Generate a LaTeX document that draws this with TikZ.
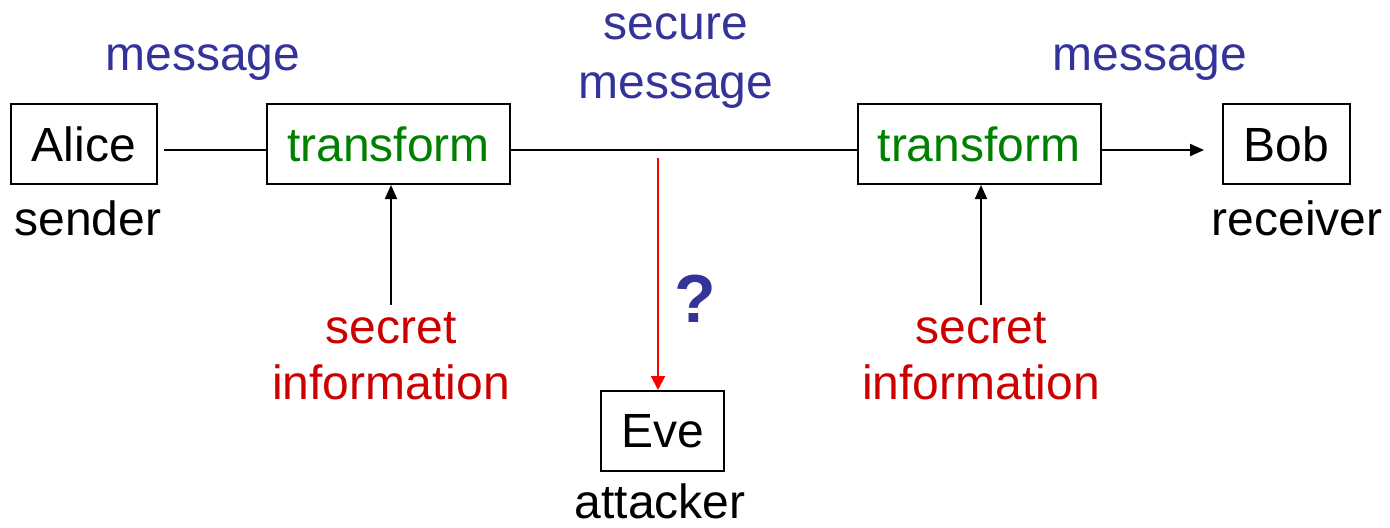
\documentclass[tikz,border=0pt]{standalone}
\usepackage{fontspec}
\setmainfont{Liberation Sans}
\usepackage{tikz}
\usetikzlibrary{positioning}
\usetikzlibrary{arrows.meta}
\definecolor{msgblue}{RGB}{51,51,153}
\definecolor{keyred}{RGB}{204,0,0}
\definecolor{xgreen}{RGB}{0,128,0}
\tikzset{
    party/.style = {rectangle, draw=black, line width=1pt, minimum height=40pt, inner sep=0pt},
    xform/.style = {party, minimum width=121.5pt, text=xgreen},
    bluetxt/.style = {anchor=base, text=msgblue},
    redtxt/.style = {anchor=base, text=keyred},
    plaintxt/.style = {anchor=base, text=black},
    edgen/.style = {-{Triangle[length=7pt,width=6pt]}, line width=1pt},
    edgel/.style = {line width=1pt}, % plain link
    edger/.style = {-{Triangle[length=7pt,width=7pt]}, line width=1pt, red}
}

\begin{document}
\begin{tikzpicture}[x=0.5pt, y=-0.5pt, font=\fontsize{24}{28}\selectfont]
  \useasboundingbox (0,0) rectangle (1390,527);

  % parties and the two transforms
  \node[party, minimum width=73pt] at (84,144) (alice) {Alice};
  \node[xform] at (388.5,144) (tr1) {transform};
  \node[xform] at (979,144) (tr2) {transform};
  \node[party, minimum width=63.5pt] at (1286.5,144) (bob) {Bob};
  \node[party, minimum width=61.5pt] at (662.5,431) (eve) {Eve};

  % roles
  \node[plaintxt] at (88,235) (snd) {sender};
  \node[plaintxt] at (1297,235) (rcv) {receiver};
  \node[plaintxt] at (660,518) (att) {attacker};

  % what travels on the line
  \node[bluetxt] at (203,70) (msg1) {message};
  \node[bluetxt] at (676,39) (sec) {secure};
  \node[bluetxt] at (676,98) (smsg) {message};
  \node[bluetxt] at (1150,70) (msg2) {message};

  % keys
  \node[redtxt] at (391,343) (key1) {secret};
  \node[redtxt] at (391,399) (inf1) {information};
  \node[redtxt] at (981,343) (key2) {secret};
  \node[redtxt] at (981,399) (inf2) {information};

  \node[anchor=base, text=msgblue, font=\fontsize{34}{40}\selectfont\bfseries] at (695,322) (qm) {?};

  % channel
  \draw[edgel] ([xshift=3pt,yshift=-3pt]alice.east) -- ([yshift=-3pt]tr1.west);
  \draw[edgel] ([yshift=-3pt]tr1.east) -- ([yshift=-3pt]tr2.west);
  \draw[edgen] ([yshift=-3pt]tr2.east) -- ([xshift=-9pt,yshift=-3pt]bob.west);

  \draw[edgen] (key1.north) -- (key1.north |- tr1.south);
  \draw[edgen] (key2.north) -- (key2.north |- tr2.south);

  % eavesdropper
  \coordinate (tap) at (658,158);
  \draw[edger] (tap) -- (tap |- eve.north);

\end{tikzpicture}
\end{document}
